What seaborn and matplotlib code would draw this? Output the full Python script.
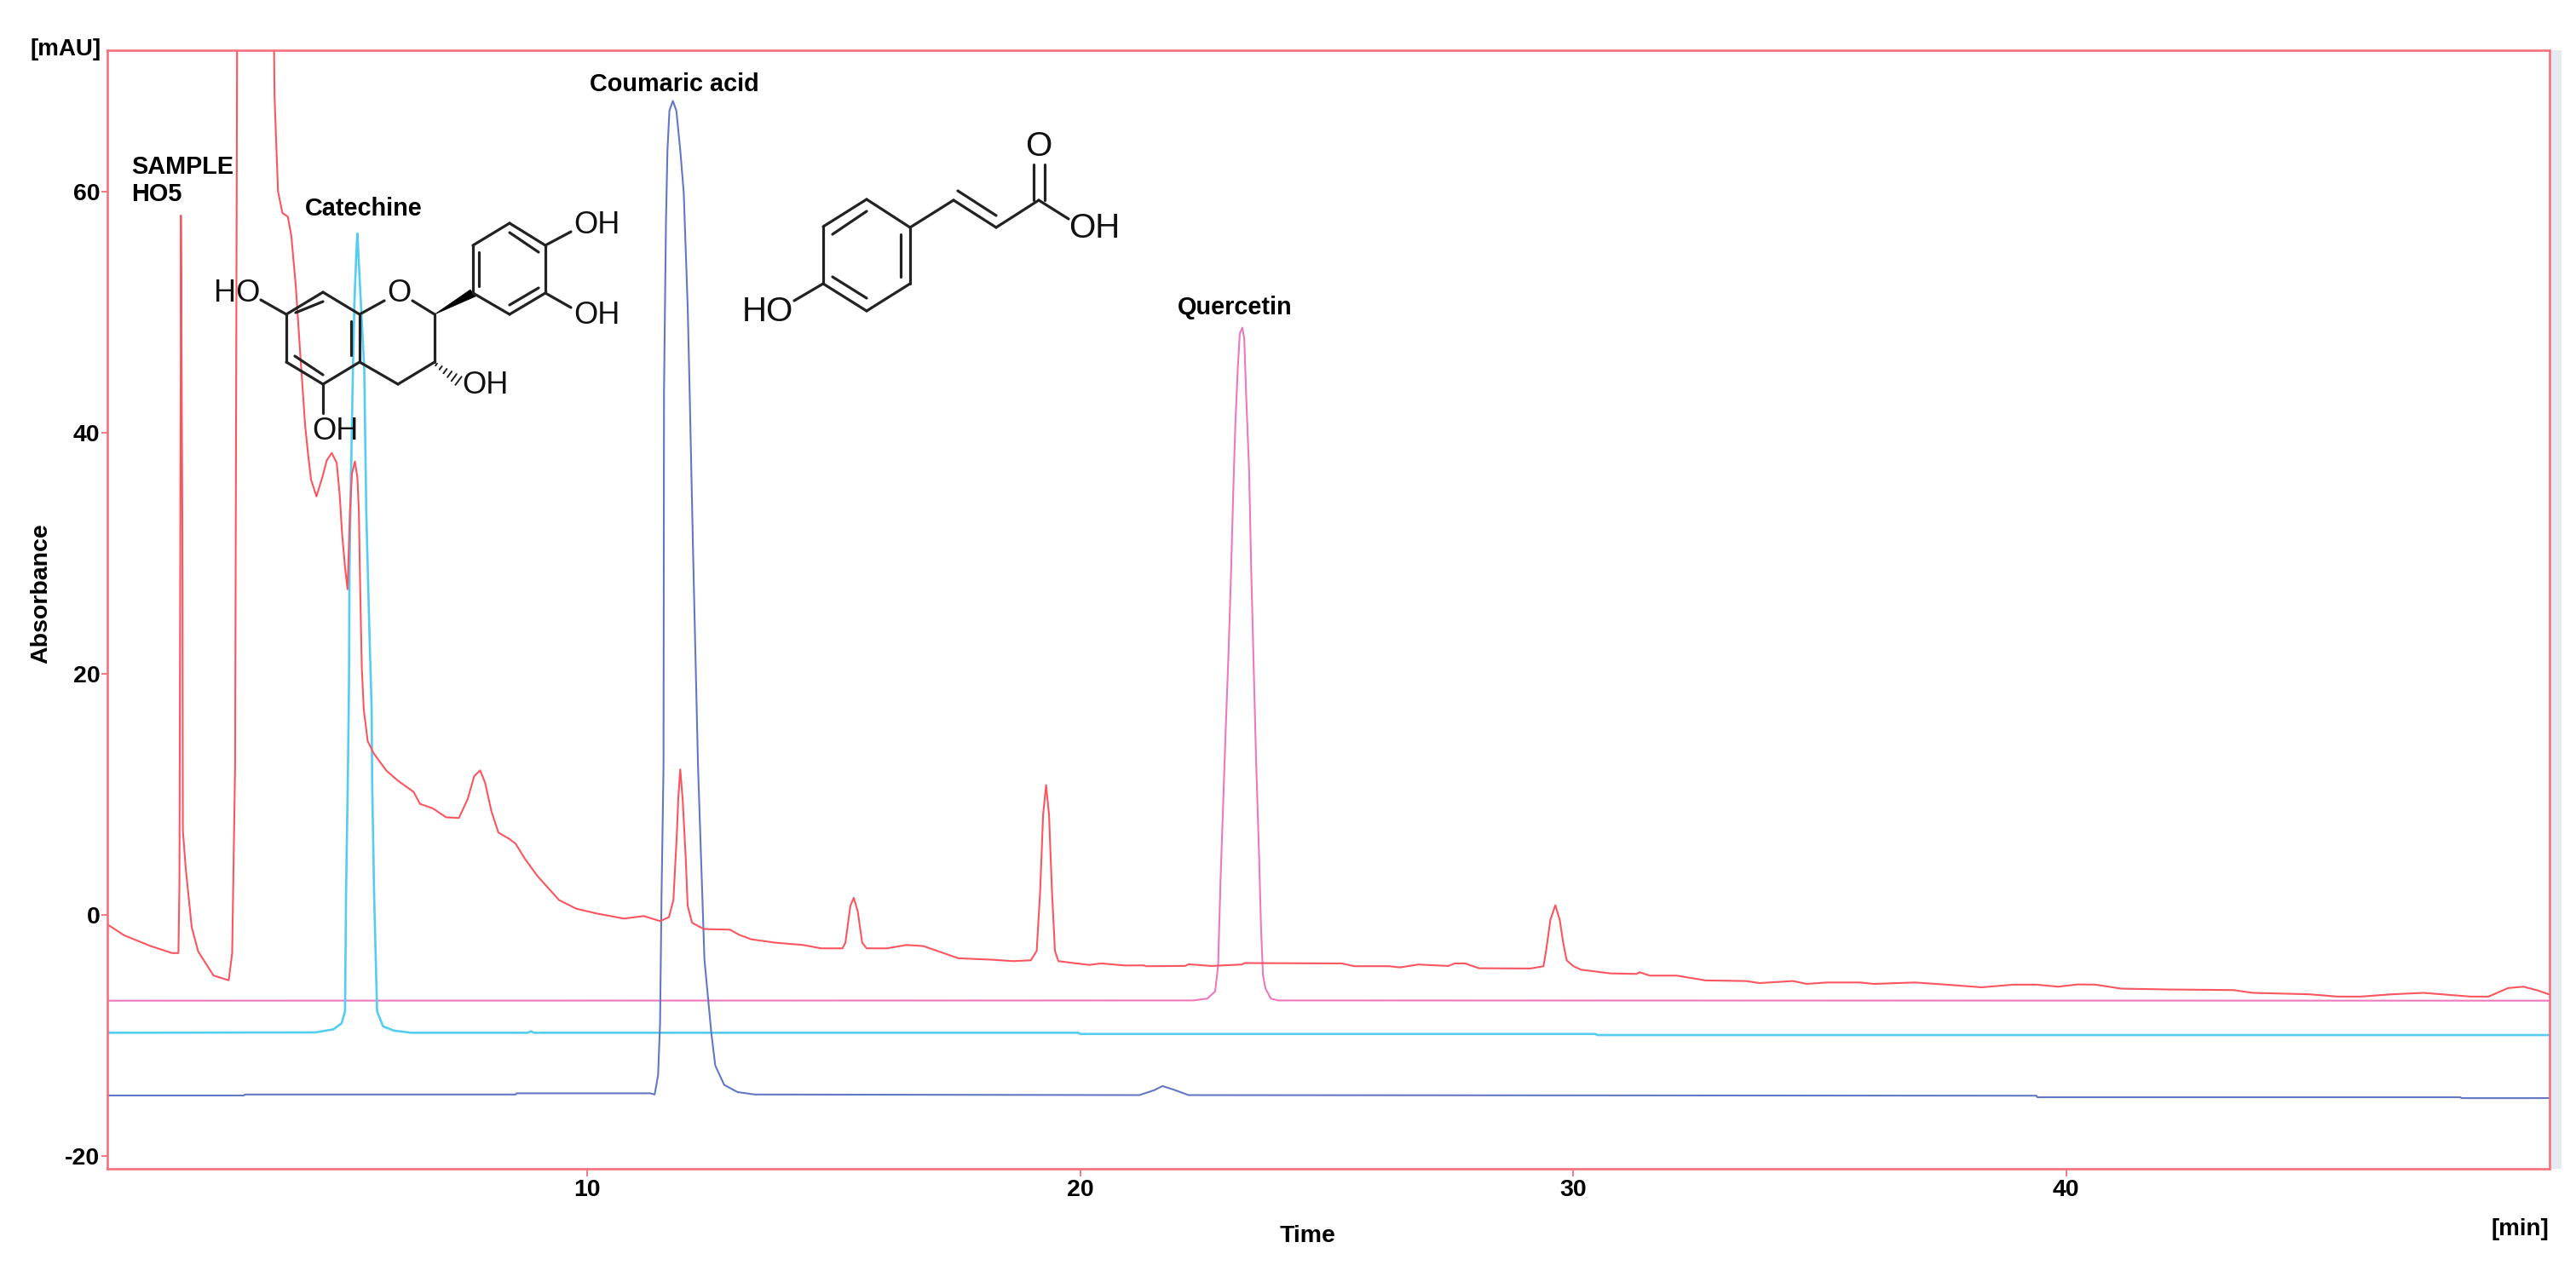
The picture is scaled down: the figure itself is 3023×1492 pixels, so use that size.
import numpy as np
import pandas as pd
import seaborn as sns
import matplotlib.pyplot as plt
from matplotlib.patches import Polygon, Rectangle


# Traces: time in min, absorbance in mAU
SAMPLE_T = [
    0.26, 0.61, 1.14, 1.58, 1.71, 1.73, 1.76, 1.76, 1.79, 1.80, 1.86, 1.98, 2.11, 2.42, 2.73, 2.80, 2.86, 2.90,
    2.95, 3.60, 3.65, 3.66, 3.73, 3.82, 3.93, 4.00, 4.09, 4.18, 4.28, 4.34, 4.40, 4.51, 4.63, 4.72, 4.82, 4.92,
    4.98, 5.03, 5.09, 5.14, 5.15, 5.19, 5.23, 5.29, 5.34, 5.37, 5.40, 5.43, 5.47, 5.55, 5.67, 5.93, 6.17, 6.48,
    6.61, 6.87, 7.14, 7.40, 7.58, 7.71, 7.83, 7.93, 8.06, 8.20, 8.42, 8.55, 8.73, 8.99, 9.43, 9.78, 10.22, 10.75,
    11.15, 11.48, 11.66, 11.75, 11.82, 11.85, 11.89, 11.94, 12.00, 12.04, 12.13, 12.37, 12.90, 13.08, 13.33, 13.82,
    14.38, 14.75, 15.18, 15.24, 15.34, 15.41, 15.49, 15.58, 15.67, 16.08, 16.48, 16.82, 17.53, 18.21, 18.64, 19.00,
    19.12, 19.19, 19.25, 19.31, 19.37, 19.43, 19.49, 19.56, 19.87, 20.18, 20.43, 20.91, 21.30, 21.33, 22.13, 22.20,
    22.66, 23.28, 23.34, 25.31, 25.56, 26.27, 26.49, 26.86, 27.47, 27.60, 27.81, 28.09, 29.14, 29.40, 29.46, 29.54,
    29.64, 29.73, 29.80, 29.87, 30.00, 30.16, 30.77, 31.29, 31.35, 31.56, 32.10, 32.69, 33.51, 33.78, 34.46, 34.74,
    35.15, 35.83, 36.10, 36.93, 37.61, 38.29, 38.93, 39.40, 39.84, 40.24, 40.60, 41.12, 42.07, 43.39, 43.79, 44.94,
    45.50, 45.98, 46.61, 47.25, 48.21, 48.57, 48.97, 49.28, 49.56, 49.79,
]
SAMPLE_A = [
    -0.77, -1.70, -2.58, -3.17, -3.17, 2.43, 49.9, 58.0, 32.3, 7.0, 3.77, -1.03, -3.03, -5.03, -5.43, -3.17, 12.3, 71.7,
    80.0, 80.0, 71.7, 67.8, 60.0, 58.2, 57.9, 56.3, 52.2, 46.6, 40.6, 38.2, 36.1, 34.7, 36.3, 37.7, 38.3, 37.5,
    34.9, 31.6, 28.8, 27.0, 28.3, 33.5, 36.6, 37.6, 36.3, 33.5, 26.4, 20.5, 17.0, 14.4, 13.4, 11.95, 11.1, 10.2,
    9.2, 8.83, 8.09, 8.03, 9.63, 11.5, 11.98, 10.97, 8.57, 6.83, 6.3, 5.9, 4.7, 3.23, 1.23, 0.51, 0.09, -0.31,
    -0.1, -0.52, -0.19, 1.2, 6.64, 9.7, 12.06, 9.47, 4.76, 0.75, -0.66, -1.18, -1.23, -1.65, -2.03, -2.31,
    -2.5, -2.78, -2.78, -2.31, 0.75, 1.41, 0.28, -2.31, -2.78, -2.78, -2.5, -2.59, -3.6, -3.72, -3.84, -3.77,
    -3.0, 1.93, 8.3, 10.76, 8.3, 1.93, -3.0, -3.84, -4.0, -4.15, -4.03, -4.2, -4.19, -4.26, -4.24, -4.1,
    -4.24, -4.12, -4.0, -4.03, -4.26, -4.26, -4.36, -4.12, -4.24, -4.03, -4.03, -4.43, -4.45, -4.26, -2.78, -0.42,
    0.8, -0.42, -2.31, -3.77, -4.24, -4.55, -4.86, -4.9, -4.76, -5.04, -5.04, -5.44, -5.49, -5.66, -5.49, -5.73,
    -5.61, -5.61, -5.73, -5.61, -5.8, -6.01, -5.79, -5.79, -5.96, -5.77, -5.79, -6.12, -6.19, -6.24, -6.47, -6.59,
    -6.78, -6.78, -6.59, -6.47, -6.78, -6.78, -6.07, -5.96, -6.26, -6.59,
]

CATECHINE_T = [
    0.26, 4.49, 4.85, 5.02, 5.09, 5.11, 5.15, 5.17, 5.18, 5.21, 5.25, 5.28, 5.32, 5.34, 5.41, 5.48, 5.52, 5.58,
    5.63, 5.64, 5.68, 5.74, 5.86, 6.08, 6.43, 8.80, 8.86, 8.92, 19.96, 20.00, 30.45, 30.50, 49.79,
]
CATECHINE_A = [
    -9.78, -9.75, -9.5, -9.0, -8.0, 1.6, 12.3, 19.4, 28.8, 36.3, 45.2, 50.8, 55.0, 56.5, 50.8, 45.2, 33.5, 24.1,
    17.0, 10.9, 1.6, -8.0, -9.25, -9.6, -9.78, -9.78, -9.65, -9.78, -9.78, -9.88, -9.88, -9.97, -9.97,
]

COUMARIC_T = [
    0.26, 3.04, 3.06, 8.55, 8.57, 11.28, 11.37, 11.44, 11.48, 11.51, 11.55, 11.56, 11.58, 11.60, 11.63, 11.67, 11.74,
    11.81, 11.89, 11.96, 12.00, 12.04, 12.08, 12.15, 12.25, 12.38, 12.52, 12.60, 12.78, 13.05, 13.40, 21.20, 21.50,
    21.67, 21.90, 22.20, 39.40, 39.42, 48.00, 48.02, 49.79,
]
COUMARIC_A = [
    -14.98, -14.98, -14.9, -14.9, -14.8, -14.8, -14.9, -13.3, -9.0, 1.6, 12.3, 43.4, 50.5, 57.5, 63.4, 66.7, 67.5,
    66.7, 63.4, 59.9, 55.2, 50.5, 43.4, 30.0, 12.3, -3.7, -9.8, -12.5, -14.1, -14.7, -14.9, -14.95, -14.55,
    -14.2, -14.5, -14.95, -15.0, -15.13, -15.13, -15.2, -15.2,
]

QUERCETIN_T = [
    0.26, 22.29, 22.58, 22.74, 22.80, 22.85, 22.90, 22.95, 23.01, 23.06, 23.11, 23.15, 23.20, 23.24, 23.29, 23.33,
    23.37, 23.43, 23.47, 23.52, 23.57, 23.63, 23.67, 23.71, 23.76, 23.87, 24.02, 49.79,
]
QUERCETIN_A = [
    -7.12, -7.1, -6.95, -6.35, -4.2, 2.97, 8.9, 14.9, 21.6, 28.0, 35.5, 40.7, 45.4, 48.2, 48.7, 47.8,
    43.0, 36.7, 28.8, 20.8, 12.9, 5.0, -1.0, -5.0, -6.1, -6.95, -7.1, -7.12,
]

X_TICKS = [10, 20, 30, 40]
Y_TICKS = [-20, 0, 20, 40, 60]

# Structure drawings, in pixels of the whole picture
CATECHIN_BONDS = [
    ((336, 369), (379, 343)), ((379, 343), (422, 369)), ((422, 369), (422, 425)), ((422, 425), (379, 451)),
    ((379, 451), (336, 425)), ((336, 425), (336, 369)), ((347, 367), (379, 354)), ((412, 377), (412, 417)),
    ((346, 418), (379, 440)), ((306, 352), (336, 369)), ((422, 369), (451, 353)), ((484, 353), (510, 369)),
    ((510, 369), (510, 425)), ((510, 425), (467, 451)), ((467, 451), (422, 425)), ((379, 451), (379, 485)),
    ((555, 288), (598, 262)), ((598, 262), (640, 288)), ((640, 288), (640, 344)), ((640, 344), (598, 369)),
    ((598, 369), (555, 344)), ((555, 344), (555, 288)), ((562, 296), (562, 336)), ((598, 273), (632, 296)),
    ((598, 358), (632, 338)), ((640, 288), (670, 272)), ((640, 344), (670, 361)),
]
CATECHIN_WEDGE = [(510, 369), (552, 340), (558, 348)]
CATECHIN_HASH = ((512, 428), (538, 447))
CATECHIN_ATOMS = [("HO", 278, 345), ("O", 468, 344), ("OH", 700, 264), ("OH", 700, 371), ("OH", 569, 453), ("OH", 393, 507)]

COUMARIC_BONDS = [
    ((1017, 234), (1068, 267)), ((1068, 267), (1068, 333)), ((1068, 333), (1017, 365)), ((1017, 365), (966, 333)),
    ((966, 333), (966, 266)), ((966, 266), (1017, 234)), ((1017, 248), (977, 275)), ((1057, 275), (1057, 325)),
    ((1017, 350), (977, 325)), ((966, 333), (932, 353)), ((1068, 267), (1119, 235)), ((1119, 235), (1169, 267)),
    ((1169, 267), (1219, 235)), ((1124, 224), (1169, 253)), ((1213, 235), (1213, 193)), ((1226, 235), (1226, 193)),
    ((1219, 235), (1254, 257)),
]
COUMARIC_ATOMS = [("HO", 901, 366), ("O", 1219, 172), ("OH", 1284, 268)]

# Spacing and colours
W, H = 3023, 1492
LEFT, RIGHT, TOP, BOTTOM = 125.5, 2991.5, 59, 1372
FRAME = "#f5707c"

sns.set_theme(style="white")
plt.rcParams["font.family"] = ["Liberation Sans", "DejaVu Sans"]
plt.rcParams["axes.unicode_minus"] = False


def trace(ax, times, values, colour, width=1.5):
    df = pd.DataFrame({"time": times, "abs": values})
    sns.lineplot(
        data=df, x="time", y="abs", sort=False, estimator=None,
        color=colour, linewidth=width, legend=False, ax=ax
    )


def molecule(over, bonds, atoms, size):
    for a, b in bonds:
        over.plot([a[0], b[0]], [a[1], b[1]], color="#222222", lw=2.3, solid_capstyle="round")
    for name, x, y in atoms:
        over.text(x, y, name, fontsize=size, color="#111111", ha="center", va="center")


fig = plt.figure(figsize=(W / 100, H / 100), dpi=100, facecolor="white")
ax = fig.add_axes([LEFT / W, 1 - BOTTOM / H, (RIGHT - LEFT) / W, (BOTTOM - TOP) / H])

trace(ax, QUERCETIN_T, QUERCETIN_A, "#ee78bd", 1.5)
trace(ax, CATECHINE_T, CATECHINE_A, "#55cdf0", 1.9)
trace(ax, COUMARIC_T, COUMARIC_A, "#6278c4", 1.5)
trace(ax, SAMPLE_T, SAMPLE_A, "#fb5560", 1.5)

ax.set_xlim(0.26, 49.8)
ax.set_ylim(-21.06, 71.7)
ax.set_xticks(X_TICKS)
ax.set_yticks(Y_TICKS)
ax.tick_params(axis="x", length=6.5, width=1.3, color=FRAME, labelsize=20.5, pad=2, bottom=True)
ax.tick_params(axis="y", length=5, width=1.3, color=FRAME, labelsize=20.5, pad=1, left=True)
for lab in ax.get_xticklabels() + ax.get_yticklabels():
    lab.set_fontweight("bold")
    lab.set_color("black")
for side in ax.spines.values():
    side.set_color(FRAME)
    side.set_linewidth(1.9)

ax.set_xlabel("Time", fontsize=20.5, fontweight="bold", color="black", va="center")
ax.set_ylabel("Absorbance", fontsize=20.5, fontweight="bold", color="black", va="center")
ax.xaxis.set_label_coords(0.4918, -0.060)
ax.yaxis.set_label_coords(-0.027, 0.514)

# Overlay in picture pixels for the labels and structures
over = fig.add_axes([0, 0, 1, 1], facecolor="none")
over.set_xlim(0, W)
over.set_ylim(H, 0)
over.axis("off")

over.add_patch(Rectangle((RIGHT + 2, TOP), 12, BOTTOM - TOP, facecolor="#e4eaf0", edgecolor="none"))

over.text(119, 58, "[mAU]", fontsize=20, fontweight="bold", ha="right", va="center", color="black")
over.text(RIGHT, 1443, "[min]", fontsize=20, fontweight="bold", ha="right", va="center", color="black")
over.text(154, 196, "SAMPLE", fontsize=20.8, fontweight="bold", va="center", color="black")
over.text(154, 228, "HO5", fontsize=20.8, fontweight="bold", va="center", color="black")
over.text(358, 245, "Catechine", fontsize=20.8, fontweight="bold", va="center", color="black")
over.text(692, 99, "Coumaric acid", fontsize=20.8, fontweight="bold", va="center", color="black")
over.text(1382, 361, "Quercetin", fontsize=20.8, fontweight="bold", va="center", color="black")

molecule(over, CATECHIN_BONDS, CATECHIN_ATOMS, 26)
over.add_patch(Polygon(CATECHIN_WEDGE, closed=True, facecolor="black", edgecolor="black", lw=0.5))
hash_x = np.linspace(CATECHIN_HASH[0][0], CATECHIN_HASH[1][0], 6)
hash_y = np.linspace(CATECHIN_HASH[0][1], CATECHIN_HASH[1][1], 6)
for i, (hx, hy) in enumerate(zip(hash_x, hash_y)):
    half = 1.5 + i * 0.9
    over.plot([hx - half * 0.6, hx + half * 0.6], [hy + half * 0.8, hy - half * 0.8], color="#222222", lw=1.4)
molecule(over, COUMARIC_BONDS, COUMARIC_ATOMS, 29)

over.set_xlim(0, W)
over.set_ylim(H, 0)

fig.savefig("out.png", dpi=100, facecolor="white")
